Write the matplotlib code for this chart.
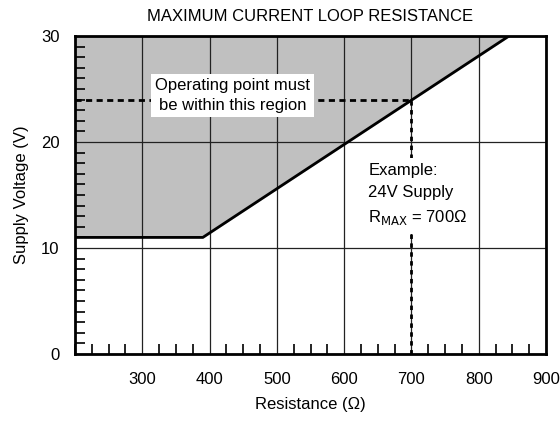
import numpy as np
import matplotlib.pyplot as plt
from matplotlib.ticker import MultipleLocator

plt.rcParams['font.family'] = ['Liberation Sans', 'DejaVu Sans']

# ── 資料 ──
limit_r = [200, 390, 845]      # Ω
limit_v = [11, 11, 30]         # V
example_r = 700
example_v = 24
x_ticks = [300, 400, 500, 600, 700, 800, 900]
y_ticks = [0, 10, 20, 30]

FS = 12.0

fig = plt.figure(figsize=(5.6, 4.22), dpi=100)
ax = fig.add_axes([75 / 560, 1 - 354 / 422, (546 - 75) / 560, (354 - 36) / 422])

ax.set_xlim(200, 900)
ax.set_ylim(0, 30)

# 灰色區域
ax.fill_between(limit_r, limit_v, 30, color="#c0c0c0", zorder=1)

ax.set_xticks(x_ticks)
ax.set_yticks(y_ticks)
ax.xaxis.set_minor_locator(MultipleLocator(25))
ax.yaxis.set_minor_locator(MultipleLocator(1))
ax.grid(which="major", color="#222222", linewidth=0.9, zorder=2)
ax.set_axisbelow(False)
ax.tick_params(which="major", length=0, labelsize=FS, pad=13)
ax.tick_params(axis="y", which="major", pad=11)
ax.tick_params(which="minor", direction="in", length=7, width=1.2, top=False, right=False)
for s in ax.spines.values():
    s.set_linewidth(2)
    s.set_zorder(6)

ax.plot(limit_r, limit_v, color="black", linewidth=2, zorder=4, solid_capstyle="butt")

ax.plot([200, example_r], [example_v, example_v], color="black", linewidth=2,
        linestyle=(0, (2.2, 1.6)), zorder=3)
ax.plot([example_r, example_r], [0, example_v], color="black", linewidth=2,
        linestyle=(0, (1.6, 1.6)), zorder=3)

ax.text(434, 24.4, "Operating point must\nbe within this region", ha="center", va="center",
        fontsize=FS, linespacing=1.4, zorder=5,
        bbox=dict(facecolor="white", edgecolor="none", pad=3))
ax.text(636, 15.0, "Example:\n24V Supply\nR$_{\\mathrm{MAX}}$ = 700\u03a9", ha="left", va="center",
        fontsize=FS, linespacing=1.55, zorder=5,
        bbox=dict(facecolor="white", edgecolor="none", pad=5))

ax.set_title("MAXIMUM CURRENT LOOP RESISTANCE", fontsize=FS, pad=11)
ax.set_xlabel("Resistance (\u03a9)", fontsize=FS, labelpad=7)
ax.set_ylabel("Supply Voltage (V)", fontsize=FS, labelpad=9)

fig.savefig("out.png", dpi=100)
